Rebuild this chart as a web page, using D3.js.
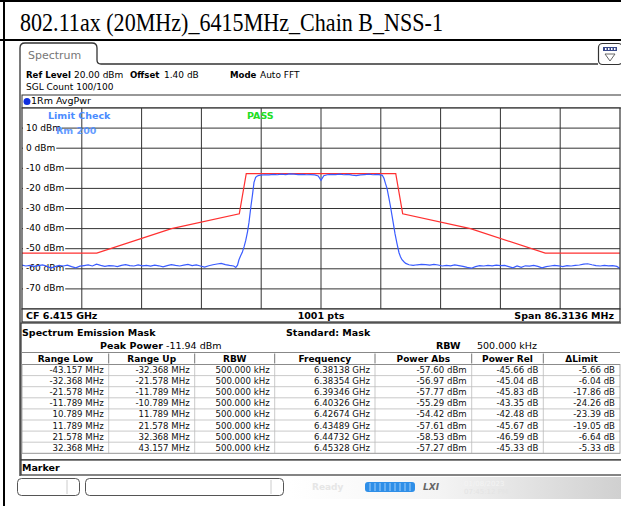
<!DOCTYPE html>
<html><head><meta charset="utf-8">
<script src="https://cdn.jsdelivr.net/npm/d3@7"></script>
<style>
html,body{margin:0;padding:0;background:#fff;}
svg{display:block;}
</style></head>
<body>
<svg id="c" width="621" height="506"></svg>
<script>
// ---------------- DATA ----------------
const titleText = "802.11ax (20MHz)_6415MHz_Chain B_NSS-1";
const centerGHz = 6.415;
const spanMHz = 86.3136;
const refLevel = 20;
const yTicks = [10, 0, -10, -20, -30, -40, -50, -60, -70];

// limit line (offset from centre in MHz, level in dBm)
const limitMHz = [-43.157, -32.368, -21.578, -11.789, -10.789, 10.789, 11.789, 21.578, 32.368, 43.157];
const limitdBm = [-52.2, -52.2, -40.0, -32.6, -12.6, -12.6, -32.6, -40.0, -52.2, -52.2];

// averaged power trace: [offset MHz, dBm]
const avgPwrTrace = [
 [-43.16,-58.2],[-42.6,-58.6],[-42.0,-58.3],[-41.4,-58.8],[-40.8,-58.4],[-40.2,-58.1],[-39.6,-58.7],[-39.0,-59.6],
 [-38.4,-58.9],[-37.8,-58.3],[-37.2,-58.6],[-36.6,-58.2],[-36.0,-58.9],[-35.4,-59.5],[-34.8,-58.7],[-34.2,-58.4],
 [-33.6,-58.1],[-33.0,-58.6],[-32.4,-57.7],[-31.8,-58.3],[-31.2,-58.8],[-30.6,-58.4],[-30.0,-58.5],[-29.4,-58.9],
 [-28.8,-58.3],[-28.2,-57.9],[-27.6,-58.4],[-27.0,-58.6],[-26.4,-58.1],[-25.8,-58.5],[-25.2,-58.3],[-24.6,-58.7],
 [-24.0,-58.2],[-23.4,-58.5],[-22.8,-59.0],[-22.2,-58.4],[-21.6,-57.9],[-21.0,-58.3],[-20.4,-58.6],[-19.8,-58.2],
 [-19.2,-57.8],[-18.6,-58.4],[-18.0,-58.1],[-17.4,-58.6],[-16.8,-59.2],[-16.2,-58.5],[-15.6,-58.0],[-15.0,-57.6],
 [-14.4,-57.3],[-13.8,-57.9],[-13.2,-58.3],[-12.6,-58.6],[-12.3,-59.3],[-12.05,-58.2],
 [-11.84,-55.5],[-11.6,-53.5],[-11.36,-51.8],[-11.1,-49.0],[-10.87,-46.0],[-10.6,-41.5],[-10.39,-36.8],[-10.1,-28.5],
 [-9.9,-23.5],[-9.67,-17.0],[-9.43,-14.5],[-9.2,-13.8],[-8.95,-13.5],
 [-8.7,-13.4],[-8.1,-13.2],[-7.5,-13.3],[-6.9,-13.0],[-6.3,-13.2],[-5.7,-12.9],[-5.1,-13.1],[-4.5,-12.8],
 [-3.9,-12.9],[-3.3,-13.1],[-2.7,-13.0],[-2.1,-13.2],[-1.5,-13.1],[-0.9,-13.3],[-0.4,-13.8],[0.0,-16.0],
 [0.4,-13.7],[0.9,-13.2],[1.5,-13.0],[2.1,-13.1],[2.7,-12.9],[3.3,-13.2],[3.9,-13.0],[4.5,-13.4],
 [5.1,-13.6],[5.7,-13.3],[6.3,-13.1],[6.9,-12.9],[7.5,-13.2],[8.1,-13.0],[8.6,-13.3],[8.85,-13.5],
 [9.09,-15.0],[9.3,-17.5],[9.53,-20.0],[9.81,-25.0],[10.03,-29.0],[10.25,-33.5],[10.47,-38.0],[10.68,-42.5],
 [10.97,-47.5],[11.26,-52.0],[11.47,-54.0],[11.69,-55.5],[12.0,-56.6],[12.23,-57.3],[12.7,-58.0],
 [13.3,-58.3],[13.9,-58.0],[14.5,-57.8],[15.1,-57.9],[15.7,-58.2],[16.3,-57.8],[16.9,-58.1],[17.5,-58.6],
 [18.1,-58.3],[18.7,-58.5],[19.3,-58.1],[19.9,-58.4],[20.5,-58.8],[21.1,-59.3],[21.7,-59.7],[22.3,-58.9],
 [22.9,-58.4],[23.5,-58.6],[24.1,-58.3],[24.7,-58.5],[25.3,-58.2],[25.9,-58.4],[26.5,-58.3],[27.1,-58.9],
 [27.7,-59.5],[28.3,-58.6],[28.9,-59.3],[29.5,-58.5],[30.1,-58.7],[30.7,-58.3],[31.3,-58.8],[31.9,-59.5],
 [32.5,-58.9],[33.1,-58.6],[33.7,-58.3],[34.3,-58.5],[34.9,-58.9],[35.5,-58.4],[36.1,-58.6],[36.7,-58.3],
 [37.3,-58.1],[37.9,-57.7],[38.5,-57.5],[39.1,-58.0],[39.7,-58.4],[40.3,-58.6],[40.9,-58.3],[41.5,-58.5],
 [42.1,-58.4],[42.7,-58.8],[43.16,-59.8]
];

// result table
const tableHeaders = ["Range Low", "Range Up", "RBW", "Frequency", "Power Abs", "Power Rel", "\u0394Limit"];
const rangeLow = [-43.157, -32.368, -21.578, -11.789, 10.789, 11.789, 21.578, 32.368];
const rangeUp = [-32.368, -21.578, -11.789, -10.789, 11.789, 21.578, 32.368, 43.157];
const rbwkHz = [500, 500, 500, 500, 500, 500, 500, 500];
const freqGHz = [6.38138, 6.38354, 6.39346, 6.40326, 6.42674, 6.43489, 6.44732, 6.45328];
const powerAbs = [-57.60, -56.97, -57.77, -55.29, -54.42, -57.61, -58.53, -57.27];
const powerRel = [-45.66, -45.04, -45.83, -43.35, -42.48, -45.67, -46.59, -45.33];
const deltaLimit = [-5.66, -6.04, -17.86, -24.26, -23.39, -19.05, -6.64, -5.33];
const peakPower = -11.94;

// ---------------- DRAW ----------------
const svg = d3.select("#c");
const F = "'DejaVu Sans', Verdana, sans-serif";
const defs = svg.append("defs");
svg.append("rect").attr("width",621).attr("height",506).attr("fill","#fff");

// document table lines
svg.append("line").attr("x1",0).attr("x2",621).attr("y1",1).attr("y2",1).attr("stroke","#000").attr("stroke-width",2);
svg.append("line").attr("x1",0).attr("x2",621).attr("y1",40).attr("y2",40).attr("stroke","#000").attr("stroke-width",2);
svg.append("line").attr("x1",4).attr("x2",4).attr("y1",0).attr("y2",506).attr("stroke","#000").attr("stroke-width",2);
svg.append("text").attr("x",20).attr("y",30.5).attr("font-family","'Liberation Serif','Times New Roman',serif")
  .attr("font-size",25).attr("textLength",423).attr("lengthAdjust","spacingAndGlyphs")
  .attr("fill","#000").text(titleText);

// screenshot frame
svg.append("path").attr("d","M20,476 L20,48 Q20,43 25,43 L92,43 Q97,43 97,48 L97,60 Q97,64 101,64 L598,64")
  .attr("fill","none").attr("stroke","#333").attr("stroke-width",1.3);
svg.append("text").attr("x",28).attr("y",59).attr("font-family",F).attr("font-size",11).attr("fill","#777").text("Spectrum");
// icon top right
svg.append("rect").attr("x",598.5).attr("y",43.5).attr("width",24).attr("height",21).attr("rx",4).attr("fill","#fff").attr("stroke","#333").attr("stroke-width",1.2);
svg.append("rect").attr("x",603).attr("y",47).attr("width",14).attr("height",4).attr("fill","#3a4a8a");
[605,608,611,614].forEach(x=>svg.append("rect").attr("x",x).attr("y",48).attr("width",1.5).attr("height",2).attr("fill","#fff"));
svg.append("path").attr("d","M605,54 L615,54 L610,61 Z").attr("fill","none").attr("stroke","#555").attr("stroke-width",0.9);

// info lines
function txt(x,y,s,opts={}){
  const t = svg.append("text").attr("x",x).attr("y",y).attr("font-family",F)
    .attr("font-size",opts.size||9).attr("fill",opts.fill||"#000")
    .attr("font-weight",opts.bold?"bold":"normal").attr("text-anchor",opts.anchor||"start")
    .attr("dominant-baseline","middle").text(s);
  return t;
}
txt(26,75,"Ref Level",{bold:true,size:8.6}); txt(74,75,"20.00 dBm");
txt(130,75,"Offset",{bold:true,size:8.6}); txt(164,75,"1.40 dB");
txt(230,75,"Mode",{bold:true,size:8.6}); txt(260,75,"Auto FFT");
txt(26,87.5,"SGL Count 100/100");

// trace header
svg.append("rect").attr("x",22).attr("y",95).attr("width",600).attr("height",13).attr("fill","#fff").attr("stroke","#333").attr("stroke-width",1);
svg.append("circle").attr("cx",27).attr("cy",101.5).attr("r",3.5).attr("fill","#1030e0");
txt(31,101.5,"1Rm AvgPwr",{size:9.5});

// plot
const X0=22, X1=620, Y0=108, Y1=309;
const x = d3.scaleLinear().domain([-spanMHz/2, spanMHz/2]).range([X0, X1]);
const y = d3.scaleLinear().domain([refLevel-100, refLevel]).range([Y1, Y0]);

const g = svg.append("g");
g.append("rect").attr("x",X0).attr("y",Y0).attr("width",X1-X0).attr("height",Y1-Y0).attr("fill","#fff");
// grid
const vgrid = d3.range(1,10).map(k=>-spanMHz/2 + k*spanMHz/10);
g.selectAll(".vg").data(vgrid).join("line").attr("x1",d=>x(d)).attr("x2",d=>x(d)).attr("y1",Y0).attr("y2",Y1)
  .attr("stroke","#333").attr("stroke-width",1);
g.selectAll(".hg").data(yTicks).join("line").attr("x1",X0).attr("x2",X1).attr("y1",d=>y(d)).attr("y2",d=>y(d))
  .attr("stroke","#333").attr("stroke-width",1);
// y labels with white background
yTicks.forEach(v=>{
  const t = txt(26, y(v), v+" dBm", {size:9});
  const w = t.node().getComputedTextLength();
  g.append("rect").attr("x",X0+1).attr("y",y(v)-5).attr("width",w+4).attr("height",10).attr("fill","#fff");
  t.raise();
});
// limit check labels
txt(48,116,"Limit Check",{size:9.5,bold:true,fill:"#4a8cff"});
txt(56,131,"Rm 200",{size:9.5,bold:true,fill:"#4a8cff"}).attr("opacity",0.85);
txt(247,116,"PASS",{size:9.5,bold:true,fill:"#22dd22"});

// clip
defs.append("clipPath").attr("id","pc").append("rect").attr("x",X0).attr("y",Y0).attr("width",X1-X0).attr("height",Y1-Y0);
const line = d3.line().x(d=>x(d[0])).y(d=>y(d[1]));
svg.append("path").datum(limitMHz.map((f,i)=>[f,limitdBm[i]])).attr("d",line)
  .attr("fill","none").attr("stroke","#ff3030").attr("stroke-width",1.2).attr("clip-path","url(#pc)");
svg.append("path").datum(avgPwrTrace).attr("d",line)
  .attr("fill","none").attr("stroke","#3a5cff").attr("stroke-width",1.2).attr("clip-path","url(#pc)");
svg.append("rect").attr("x",X0).attr("y",Y0).attr("width",X1-X0).attr("height",Y1-Y0).attr("fill","none").attr("stroke","#333").attr("stroke-width",1.2);

// footer row
svg.append("rect").attr("x",X0).attr("y",Y1).attr("width",X1-X0).attr("height",13).attr("fill","#fff").attr("stroke","#333").attr("stroke-width",1.2);
txt(26,316,"CF "+centerGHz.toFixed(3)+" GHz",{bold:true,size:9.5});
txt(321,316,"1001 pts",{bold:true,size:9.5,anchor:"middle"});
txt(614,316,"Span "+spanMHz.toFixed(4)+" MHz",{bold:true,size:9.5,anchor:"end"});

// SEM panel
svg.append("rect").attr("x",21).attr("y",323).attr("width",601).attr("height",137).attr("fill","#fff").attr("stroke","#333").attr("stroke-width",1.2);
txt(22,333,"Spectrum Emission Mask",{bold:true,size:9.5});
txt(286,333,"Standard: Mask",{bold:true,size:9.5});
txt(100,346,"Peak Power",{bold:true,size:9.5});
txt(166,346,peakPower.toFixed(2)+" dBm",{size:9.5});
txt(436,346,"RBW",{bold:true,size:9.5});
txt(477,346,"500.000 kHz",{size:9.5});

const colEdges = [22,108.7,194.7,274.7,375,471.7,543.3,620];
const hdrTop = 352.5, hdrH = 12, rowH = 11.1;
// header
svg.append("line").attr("x1",22).attr("x2",620).attr("y1",hdrTop).attr("y2",hdrTop).attr("stroke","#888");
svg.append("line").attr("x1",22).attr("x2",620).attr("y1",hdrTop+hdrH).attr("y2",hdrTop+hdrH).attr("stroke","#555");
tableHeaders.forEach((h,i)=>{
  txt((colEdges[i]+colEdges[i+1])/2, hdrTop+hdrH/2+0.5, h, {bold:true,size:9,anchor:"middle"});
  if(i>0) svg.append("line").attr("x1",colEdges[i]).attr("x2",colEdges[i]).attr("y1",hdrTop+1).attr("y2",hdrTop+hdrH-1).attr("stroke","#777");
});
const rows = rangeLow.map((d,i)=>[
  rangeLow[i].toFixed(3)+" MHz", rangeUp[i].toFixed(3)+" MHz", rbwkHz[i].toFixed(3)+" kHz",
  freqGHz[i].toFixed(5)+" GHz", powerAbs[i].toFixed(2)+" dBm", powerRel[i].toFixed(2)+" dB", deltaLimit[i].toFixed(2)+" dB"]);
const bodyTop = hdrTop+hdrH;
rows.forEach((r,ri)=>{
  const yy = bodyTop + ri*rowH;
  svg.append("line").attr("x1",22).attr("x2",620).attr("y1",yy+rowH).attr("y2",yy+rowH).attr("stroke","#bbb").attr("stroke-width",0.8);
  r.forEach((s,ci)=>{
    txt(colEdges[ci+1]-5, yy+rowH/2+0.5, s, {size:8.6,anchor:"end",fill:"#111"});
  });
});
colEdges.slice(1,-1).forEach(cx=>svg.append("line").attr("x1",cx).attr("x2",cx).attr("y1",bodyTop).attr("y2",bodyTop+rowH*8).attr("stroke","#bbb").attr("stroke-width",0.8));
svg.append("rect").attr("x",22).attr("y",bodyTop).attr("width",598).attr("height",rowH*8).attr("fill","none").attr("stroke","#999").attr("stroke-width",0.8);

// marker box
svg.append("rect").attr("x",21).attr("y",460).attr("width",601).attr("height",15).attr("fill","#fff").attr("stroke","#333").attr("stroke-width",1.2);
txt(22,468,"Marker",{bold:true,size:9.5});

// status bar
const grad = defs.append("linearGradient").attr("id","sg").attr("x1","0").attr("x2","1");
grad.append("stop").attr("offset","0").attr("stop-color","#ffffff");
grad.append("stop").attr("offset","0.45").attr("stop-color","#f4f4f4");
grad.append("stop").attr("offset","1").attr("stop-color","#d0d0d0");
svg.append("rect").attr("x",290).attr("y",477).attr("width",331).attr("height",22).attr("fill","url(#sg)");
svg.append("rect").attr("x",17.5).attr("y",478.5).attr("width",62).attr("height",17).attr("rx",4).attr("fill","#fff").attr("stroke","#555");
svg.append("line").attr("x1",67).attr("x2",67).attr("y1",480).attr("y2",494).attr("stroke","#ccc");
svg.append("rect").attr("x",85.5).attr("y",478.5).attr("width",198).attr("height",17).attr("rx",4).attr("fill","#fff").attr("stroke","#555");
svg.append("line").attr("x1",271).attr("x2",271).attr("y1",480).attr("y2",494).attr("stroke","#ccc");
txt(312,487,"Ready",{size:9,bold:true,fill:"#e6e6e6"});
svg.append("rect").attr("x",365).attr("y",482).attr("width",50).attr("height",10).attr("rx",3).attr("fill","#2f8fe8");
d3.range(0,9).forEach(k=>svg.append("line").attr("x1",370+k*5).attr("x2",370+k*5).attr("y1",483).attr("y2",491).attr("stroke","#bfe0ff").attr("stroke-width",0.8));
txt(423,487,"LXI",{size:9,bold:true,fill:"#666"}).attr("font-style","italic");
txt(464,484,"01/08/2023",{size:7,fill:"#f4f4f4"});
txt(464,492,"07:45:12 PM",{size:7,fill:"#e4e4e4"});
</script>
</body></html>
